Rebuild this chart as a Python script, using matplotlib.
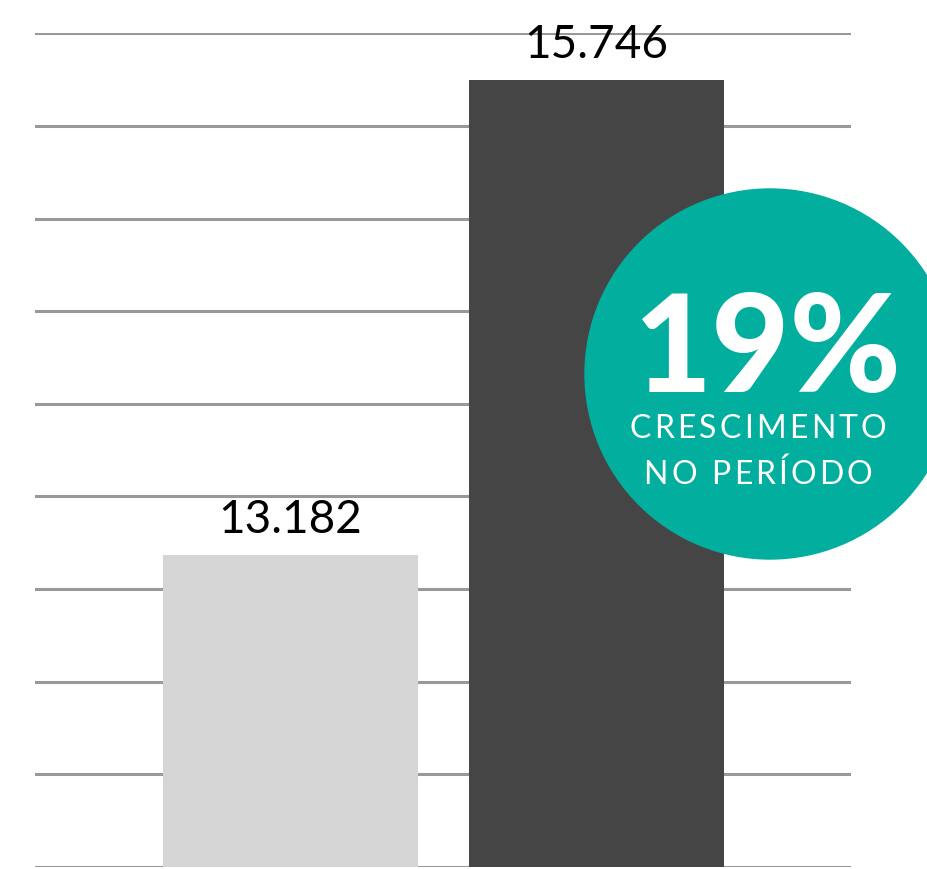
import matplotlib.pyplot as plt
from matplotlib.patches import Ellipse

periodos = ['Período 1', 'Período 2']
valores = [13182, 15746]
rotulos = ['13.182', '15.746']
cores = ['#d5d5d5', '#454545']
crescimento = '19%'
linhas_circulo = ['CRESCIMENTO', 'NO PERÍODO']

plt.rcParams['font.family'] = ['Lato', 'DejaVu Sans']

fig = plt.figure(figsize=(9.27, 8.69), dpi=100)
ax = fig.add_axes([35 / 927, 2.3 / 869, 816 / 927, 833.4 / 869])

x = range(len(valores))
ax.bar(x, valores, width=0.833, color=cores, zorder=2)

ax.set_ylim(11500, 16000)
ax.set_xlim(-0.835, 1.832)
ax.set_yticks(range(11500, 16001, 500))
ax.yaxis.grid(True, color='#999999', linewidth=2.2, zorder=0)
ax.set_axisbelow(True)
ax.tick_params(left=False, bottom=False, labelleft=False, labelbottom=False)
for s in ax.spines.values():
    s.set_visible(False)

# rótulos dos valores
for xi, v, r in zip(x, valores, rotulos):
    ax.annotate(r, (xi, v), textcoords='offset points', xytext=(0, 16),
                ha='center', va='baseline', fontsize=33, color='black',
                zorder=5, annotation_clip=False)

# círculo de crescimento
circ = Ellipse((770 / 927, 1 - 374 / 869), 370 / 927, 370 / 869,
               transform=fig.transFigure, color='#02ae9d', zorder=10,
               clip_on=False)
fig.patches.append(circ)

fig.text(767 / 927, 1 - 392 / 869, crescimento, ha='center', va='baseline',
         fontsize=97, fontweight='black', color='white', zorder=11)


def texto_espacado(s, xc, base, espaco, **kw):
    # escreve letra a letra para imitar o espaçamento largo do original
    r = fig.canvas.get_renderer()
    larg = []
    for c in s:
        t = fig.text(0, 0, c, **kw)
        larg.append(t.get_window_extent(r).width if c != ' ' else kw['fontsize'] * 0.35)
        t.remove()
    total = sum(larg) + espaco * (len(s) - 1)
    xp = xc - total / 2
    for c, w in zip(s, larg):
        fig.text(xp / 927, 1 - base / 869, c, ha='left', va='baseline',
                 zorder=11, **kw)
        xp += w + espaco


for linha, base in zip(linhas_circulo, [438, 484]):
    texto_espacado(linha, 758, base, 3.2, fontsize=23, color='white')

fig.savefig('out.png', dpi=100)
